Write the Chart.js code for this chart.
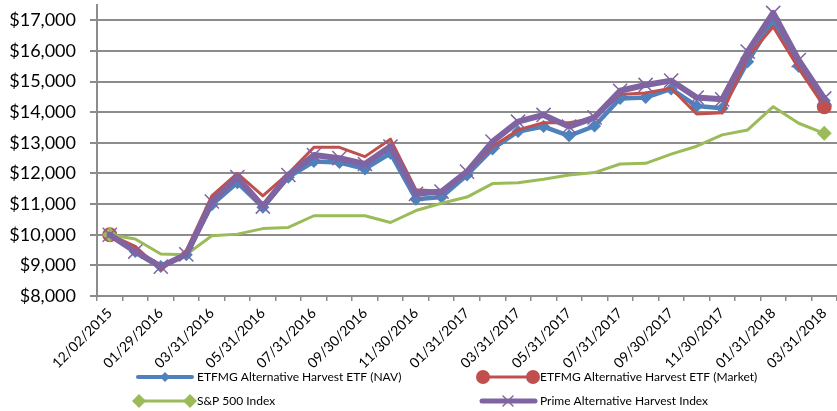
<!DOCTYPE html>
<html>
<head>
<meta charset="utf-8">
<script src="https://cdn.jsdelivr.net/npm/chart.js@4/dist/chart.umd.min.js"></script>
<style>
html,body{margin:0;padding:0;background:#fff;}
canvas{display:block;}
</style>
</head>
<body>
<canvas id="c" width="837" height="411"></canvas>
<script>
const dates = ["12/02/2015","12/31/2015","01/29/2016","02/29/2016","03/31/2016","04/30/2016","05/31/2016","06/30/2016","07/31/2016","08/31/2016","09/30/2016","10/31/2016","11/30/2016","12/31/2016","01/31/2017","02/28/2017","03/31/2017","04/30/2017","05/31/2017","06/30/2017","07/31/2017","08/31/2017","09/30/2017","10/31/2017","11/30/2017","12/31/2017","01/31/2018","02/28/2018","03/31/2018"];
const navValues = [10000,9456,8967,9350,10977,11700,10900,11880,12390,12360,12150,12660,11160,11230,11950,12800,13370,13530,13230,13550,14450,14480,14760,14200,14130,15650,16980,15490,14380];
const marketValues = [10000,9620,8860,9480,11270,12000,11270,12000,12855,12855,12550,13120,11465,11420,12050,12880,13420,13660,13660,13800,14580,14630,14780,13940,13980,15810,16790,15430,14180];
const spValues = [10000,9860,9370,9350,9967,10020,10200,10240,10620,10620,10620,10400,10790,11030,11230,11670,11700,11810,11950,12030,12310,12330,12630,12890,13260,13420,14180,13640,13310];
const primeValues = [10000,9450,8960,9360,11085,11880,10920,11950,12600,12500,12310,12880,11335,11410,12060,13040,13690,13910,13530,13830,14700,14890,15030,14480,14420,15980,17240,15700,14450];
const seriesNames = ["ETFMG Alternative Harvest ETF (NAV)","ETFMG Alternative Harvest ETF (Market)","S&P 500 Index","Prime Alternative Harvest Index"];
const yTickValues = [8000,9000,10000,11000,12000,13000,14000,15000,16000,17000];

const BLUE = "#4F81BD", RED = "#C0504D", GREEN = "#9BBB59", PURPLE = "#8064A2", GRID = "#8C8C8C";
const lastIdx = dates.length - 1;
const endsOnly = r => (ctx) => (ctx.dataIndex === 0 || ctx.dataIndex === lastIdx) ? r : 0;

function drawMarker(ctx, style, x, y, r, color, lw) {
  ctx.save();
  ctx.fillStyle = color; ctx.strokeStyle = color; ctx.lineWidth = lw || 1.5;
  ctx.beginPath();
  if (style === 'diamond') {
    ctx.moveTo(x - r, y); ctx.lineTo(x, y - r); ctx.lineTo(x + r, y); ctx.lineTo(x, y + r); ctx.closePath(); ctx.fill();
  } else if (style === 'circle') {
    ctx.arc(x, y, r, 0, Math.PI * 2); ctx.fill();
  } else if (style === 'x') {
    const d = r * Math.SQRT1_2;
    ctx.moveTo(x - d, y - d); ctx.lineTo(x + d, y + d); ctx.moveTo(x + d, y - d); ctx.lineTo(x - d, y + d); ctx.stroke();
  }
  ctx.restore();
}

const legendPlugin = {
  id: 'customLegend',
  afterDraw(chart) {
    const ctx = chart.ctx;
    const items = [
      {name: seriesNames[0], color: BLUE, lw: 4, x1: 138, x2: 192, y: 377, markers: [['diamond', 165, 5]], tx: 197},
      {name: seriesNames[1], color: RED, lw: 3, x1: 483, x2: 533, y: 377, markers: [['circle', 483, 7], ['circle', 533, 7]], tx: 540},
      {name: seriesNames[2], color: GREEN, lw: 3, x1: 139, x2: 190, y: 401, markers: [['diamond', 139, 7], ['diamond', 190, 7]], tx: 197},
      {name: seriesNames[3], color: PURPLE, lw: 5, x1: 482, x2: 535, y: 401, markers: [['x', 508, 7]], tx: 540}
    ];
    ctx.save();
    items.forEach(it => {
      ctx.strokeStyle = it.color; ctx.lineWidth = it.lw; ctx.lineCap = 'round';
      ctx.beginPath(); ctx.moveTo(it.x1, it.y); ctx.lineTo(it.x2, it.y); ctx.stroke();
      it.markers.forEach(m => drawMarker(ctx, m[0], m[1], it.y, m[2], it.color, 1.5));
      ctx.fillStyle = '#000'; ctx.font = '12px Lato'; ctx.textBaseline = 'middle'; ctx.textAlign = 'left';
      ctx.fillText(it.name, it.tx, it.y);
    });
    ctx.restore();
  }
};

new Chart(document.getElementById('c'), {
  type: 'line',
  data: {
    labels: dates,
    datasets: [
      {label: seriesNames[0], data: navValues, borderColor: BLUE, backgroundColor: BLUE, borderWidth: 4.5,
       pointStyle: 'rectRot', pointRadius: 6.5, pointBorderWidth: 0, pointBackgroundColor: BLUE, tension: 0, order: 3},
      {label: seriesNames[1], data: marketValues, borderColor: RED, backgroundColor: RED, borderWidth: 3,
       pointStyle: 'circle', pointRadius: endsOnly(7.5), pointBorderWidth: 0, pointBackgroundColor: RED, tension: 0, order: 2},
      {label: seriesNames[2], data: spValues, borderColor: GREEN, backgroundColor: GREEN, borderWidth: 3,
       pointStyle: 'rectRot', pointRadius: endsOnly(7.5), pointBorderWidth: 0, pointBackgroundColor: GREEN, tension: 0, order: 1},
      {label: seriesNames[3], data: primeValues, borderColor: PURPLE, backgroundColor: PURPLE, borderWidth: 6,
       pointStyle: 'crossRot', pointRadius: 10, pointBorderWidth: 1.5, pointBorderColor: PURPLE, tension: 0, order: 0}
    ]
  },
  options: {
    responsive: false,
    animation: false,
    devicePixelRatio: 1,
    layout: {autoPadding: false, padding: {top: 5, right: 0, bottom: 0, left: 0}},
    plugins: {legend: {display: false}, tooltip: {enabled: false}},
    elements: {line: {borderJoinStyle: 'round', borderCapStyle: 'round'}},
    scales: {
      x: {
        type: 'category',
        offset: true,
        afterFit(s) { s.height = 115; s.paddingLeft = 0; s.paddingRight = 0; },
        grid: {display: true, drawOnChartArea: false, offset: true, tickLength: 5, color: GRID, lineWidth: 1.5},
        border: {display: true, color: GRID, width: 2},
        ticks: {
          autoSkip: false, maxRotation: 45, minRotation: 45, padding: 4,
          color: '#000', font: {family: 'Lato', size: 14},
          callback: function(v, i) { return i % 2 === 0 ? this.getLabelForValue(v) : ''; }
        }
      },
      y: {
        min: 8000, max: 17500,
        afterFit(s) { s.width = 97; s.paddingTop = 0; s.paddingBottom = 0; },
        afterBuildTicks(s) { s.ticks = yTickValues.map(v => ({value: v})); },
        grid: {color: GRID, lineWidth: 2, tickLength: 7, drawTicks: true},
        border: {display: true, color: GRID, width: 2},
        ticks: {
          padding: 14, color: '#000', font: {family: 'Lato', size: 18},
          callback: v => '$' + v.toLocaleString('en-US')
        }
      }
    }
  },
  plugins: [legendPlugin]
});
</script>
</body>
</html>
